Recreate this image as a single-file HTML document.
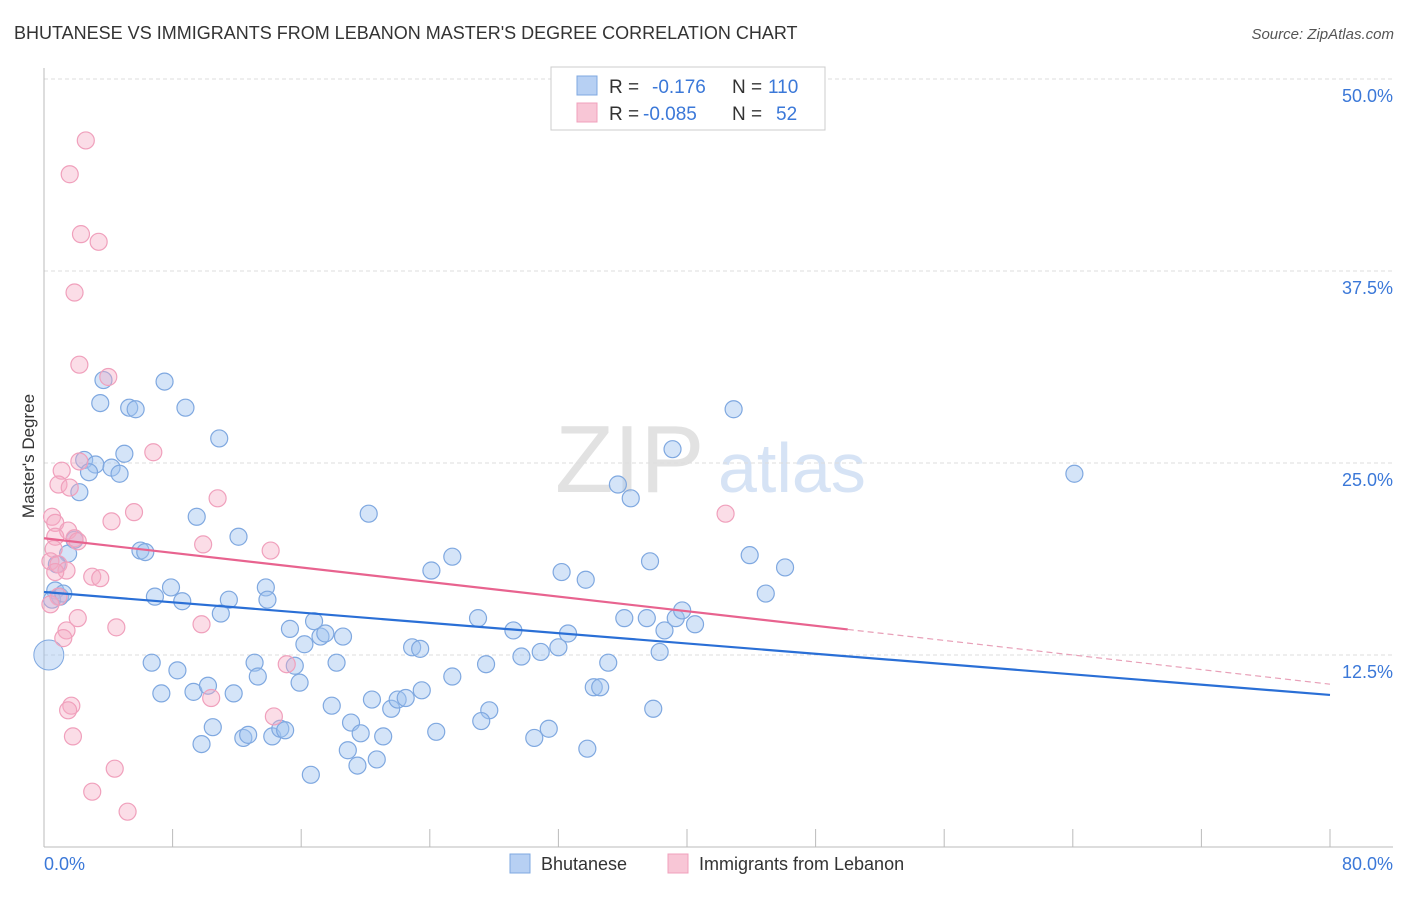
<!DOCTYPE html>
<html><head><meta charset="utf-8"><style>
body{margin:0;background:#fff;font-family:"Liberation Sans",sans-serif;}
svg text{font-family:"Liberation Sans",sans-serif;}
</style></head><body>
<svg id="chart" width="1406" height="892" xmlns="http://www.w3.org/2000/svg">
<text x="14" y="39" font-size="18" fill="#333">BHUTANESE VS IMMIGRANTS FROM LEBANON MASTER'S DEGREE CORRELATION CHART</text>
<text x="1394" y="39" font-size="15" fill="#555" text-anchor="end" font-style="italic">Source: ZipAtlas.com</text>
<g><text x="555" y="492" font-size="96" fill="#e2e2e2" font-family="Liberation Serif">ZIP</text><text x="718" y="492" font-size="70" fill="#d6e3f5">atlas</text></g>
<text transform="translate(34,456) rotate(-90)" font-size="17" fill="#333" text-anchor="middle">Master's Degree</text>
<g id="grid"></g><g id="axes"></g><g id="marks"></g>
<g>
<rect x="551" y="67" width="274" height="63" fill="#fff" stroke="#ccc"/>
<rect x="577" y="76" width="20" height="19" fill="#b7d0f3" stroke="#7fa8e0"/>
<rect x="577" y="103" width="20" height="19" fill="#f8c6d6" stroke="#f0a0bc"/>
<text x="609" y="93" font-size="19" fill="#333">R = </text><text x="652" y="93" font-size="19" fill="#3b78d8">-0.176</text>
<text x="732" y="93" font-size="19" fill="#333">N = </text><text x="768" y="93" font-size="19" fill="#3b78d8">110</text>
<text x="609" y="120" font-size="19" fill="#333">R = </text><text x="643" y="120" font-size="19" fill="#3b78d8">-0.085</text>
<text x="732" y="120" font-size="19" fill="#333">N = </text><text x="776" y="120" font-size="19" fill="#3b78d8">52</text>
</g>
<g>
<rect x="510" y="854" width="20" height="19" fill="#b7d0f3" stroke="#7fa8e0"/>
<text x="541" y="870" font-size="18" fill="#333">Bhutanese</text>
<rect x="668" y="854" width="20" height="19" fill="#f8c6d6" stroke="#f0a0bc"/>
<text x="699" y="870" font-size="18" fill="#333">Immigrants from Lebanon</text>
</g>
</svg>
<script>
const blueX=[3.7,7.5,3.5,5.3,5.7,8.8,10.9,5.0,2.5,3.2,2.8,4.2,4.7,2.2,9.5,12.1,1.9,1.5,6.0,6.3,0.8,7.9,6.9,8.6,11.5,13.8,13.9,11.0,0.7,1.0,0.5,1.2,15.3,16.8,17.2,17.5,18.6,16.2,6.7,8.3,13.1,13.3,15.6,18.2,15.9,7.3,9.3,10.2,11.8,10.5,9.8,12.4,12.7,14.2,14.7,15.0,16.6,17.9,19.1,19.7,18.9,19.5,20.7,21.1,20.4,21.6,22.0,22.5,23.5,20.2,24.1,25.4,22.9,23.4,25.4,24.4,27.0,27.5,27.7,27.2,29.2,29.7,30.9,32.0,32.6,30.5,31.4,32.2,33.7,35.7,36.5,37.7,37.5,36.1,35.1,34.2,34.6,33.8,37.9,38.3,38.6,39.3,39.7,40.5,39.1,42.9,43.9,46.1,44.9,64.1];
const blueY=[30.4,30.3,28.9,28.6,28.5,28.6,26.6,25.6,25.2,24.9,24.4,24.7,24.3,23.1,21.5,20.2,20.0,19.1,19.3,19.2,18.4,16.9,16.3,16.0,16.1,16.9,16.1,15.2,16.7,16.3,16.1,16.5,14.2,14.7,13.7,13.9,13.7,13.2,12.0,11.5,12.0,11.1,11.8,12.0,10.7,10.0,10.1,10.5,10.0,7.8,6.7,7.1,7.3,7.2,7.7,7.6,4.7,9.2,8.1,7.4,6.3,5.3,5.7,7.2,9.6,9.0,9.6,9.7,10.2,21.7,18.0,18.9,13.0,12.9,11.1,7.5,14.9,11.9,8.9,8.2,14.1,12.4,12.7,13.0,13.9,7.1,7.7,17.9,17.4,23.6,22.7,18.6,14.9,14.9,12.0,10.4,10.4,6.4,9.0,12.7,14.1,14.9,15.4,14.5,25.9,28.5,19.0,18.2,16.5,24.3];
const pinkX=[2.6,1.6,2.3,3.4,1.9,2.2,4.0,6.8,2.2,1.1,0.9,1.6,10.8,5.6,4.2,0.5,0.7,1.5,0.7,1.9,2.1,9.9,14.1,0.6,0.4,0.9,1.4,0.7,3.0,3.5,0.9,0.4,2.1,4.5,9.8,1.4,1.2,15.1,10.4,1.7,1.5,14.3,1.8,4.4,3.0,5.2,42.4];
const pinkY=[46.0,43.8,39.9,39.4,36.1,31.4,30.6,25.7,25.1,24.5,23.6,23.4,22.7,21.8,21.2,21.5,21.1,20.6,20.2,20.1,19.9,19.7,19.3,19.4,18.6,18.4,18.0,17.9,17.6,17.5,16.3,15.8,14.9,14.3,14.5,14.1,13.6,11.9,9.7,9.2,8.9,8.5,7.2,5.1,3.6,2.3,21.7];
const blueTrend=[16.6,9.9];
const pinkTrend=[20.1,10.6];
const yTicks=[12.5,25.0,37.5,50.0];
const xTickLabels=["0.0%","80.0%"];

const NS="http://www.w3.org/2000/svg";
const X=v=>44+v*16.075, Y=v=>847-v*15.36;
function mk(p,tag,a){const e=document.createElementNS(NS,tag);for(const k in a)e.setAttribute(k,a[k]);p.appendChild(e);return e;}
const grid=document.getElementById('grid'),axes=document.getElementById('axes'),marks=document.getElementById('marks');
yTicks.forEach(t=>{
 const l=mk(grid,'line',{x1:44,x2:1393,y1:Y(t),y2:Y(t),stroke:'#ddd','stroke-dasharray':'4,3'});
 
 
 const tx=mk(axes,'text',{x:1393,y:Y(t)+23,'font-size':18,fill:'#3b78d8','text-anchor':'end'});tx.textContent=t.toFixed(1)+'%';
 
 
});
const ya=mk(axes,'line',{x1:44,x2:44,y1:68,y2:847,stroke:'#bbb'});


const xa=mk(axes,'line',{x1:44,x2:1393,y1:847,y2:847,stroke:'#bbb'});


for(let i=0;i<=10;i++){const t=mk(axes,'line',{x1:X(i*8),x2:X(i*8),y1:829,y2:847,stroke:'#bbb'});
 
 }
[[0,'start',44],[80,'end',1393]].forEach((d,i)=>{const t=mk(axes,'text',{x:d[2],y:870,'font-size':18,fill:'#3b78d8','text-anchor':d[1]});t.textContent=xTickLabels[i];
 
 });
function pts(xs,ys,fill,stroke,name){xs.forEach((x,i)=>{const c=mk(marks,'circle',{cx:X(x),cy:Y(ys[i]),r:8.5,fill:fill,stroke:stroke,'stroke-width':1.2});
 
 });}
pts(blueX,blueY,'rgba(160,195,240,0.45)','#7fa8e0','bhutanese-point');
const big=mk(marks,'circle',{cx:X(0.3),cy:Y(12.5),r:15,fill:'rgba(160,195,240,0.45)',stroke:'#7fa8e0'});


pts(pinkX,pinkY,'rgba(245,170,195,0.4)','#f0a0bc','lebanon-point');
const bl=mk(marks,'line',{x1:X(0),y1:Y(blueTrend[0]),x2:X(80),y2:Y(blueTrend[1]),stroke:'#2a6fd6','stroke-width':2.2});


const pm=pinkTrend[0]+(pinkTrend[1]-pinkTrend[0])*50/80;
const pl=mk(marks,'line',{x1:X(0),y1:Y(pinkTrend[0]),x2:X(50),y2:Y(pm),stroke:'#e8638f','stroke-width':2.2});


const pd=mk(marks,'line',{x1:X(50),y1:Y(pm),x2:X(80),y2:Y(pinkTrend[1]),stroke:'#e8a0b8','stroke-width':1.2,'stroke-dasharray':'6,4'});


</script>
</body></html>
